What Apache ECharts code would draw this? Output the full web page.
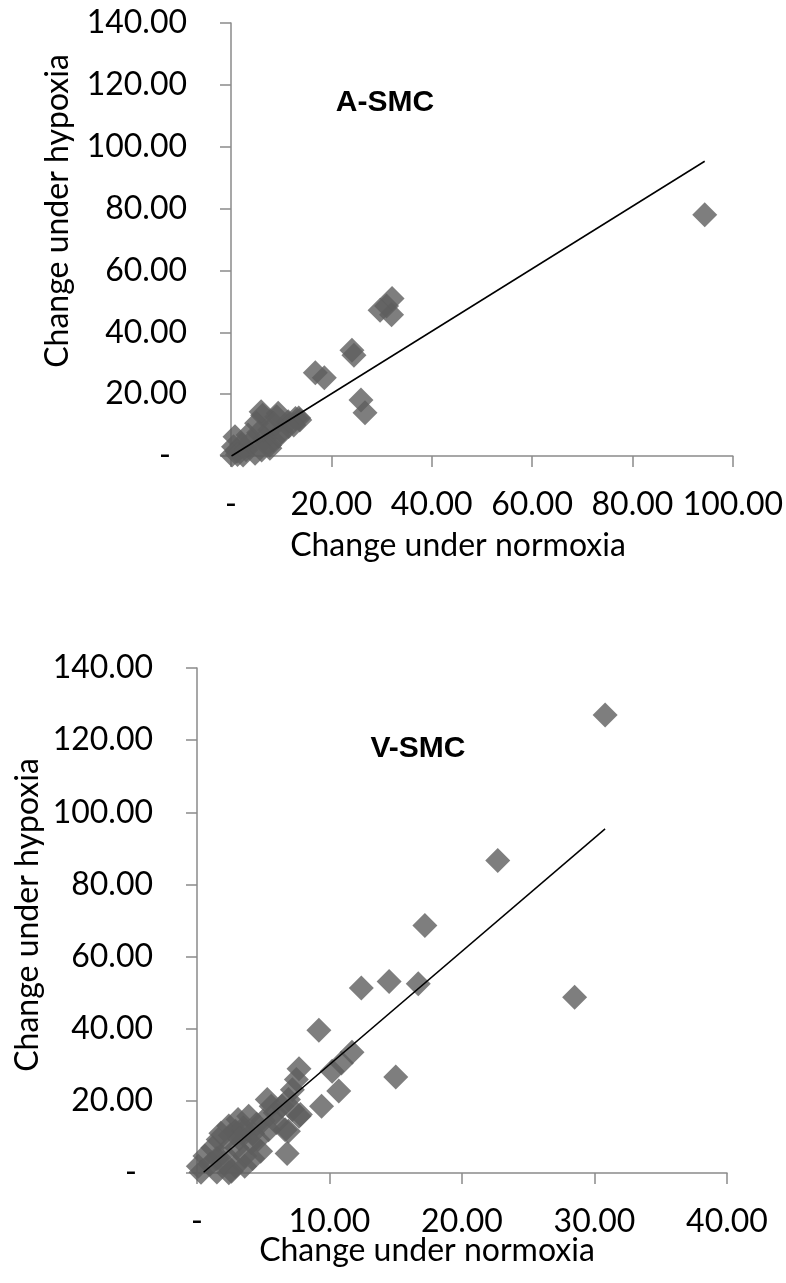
<!DOCTYPE html>
<html>
<head>
<meta charset="utf-8">
<title>A-SMC / V-SMC change under normoxia vs hypoxia</title>
<script src="https://cdn.jsdelivr.net/npm/echarts@6/dist/echarts.min.js"></script>
<style>
  html, body { margin: 0; padding: 0; background: #ffffff; }
  #chart { width: 786px; height: 1283px; }
</style>
</head>
<body>
<div id="chart"></div>
<script>
// A-SMC: change under normoxia (x) vs change under hypoxia (y)
const asmcNormoxia = [94.4, 32.1, 31.0, 29.7, 32.0, 24.1, 24.5, 16.8, 18.6, 25.9, 26.7,
  13.5, 12.85, 13.7, 11.4, 9.1, 9.4, 6.0, 6.3, 5.1, 7.7, 10.1, 11.5, 8.4, 7.7, 6.8, 3.4,
  0.8, 2.1, 0.5, 0.2, 2.4, 4.8, 7.75, 1.2, 3.0, 4.0, 5.5, 8.5, 12.5, 9.5, 1.3, 6.1];
const asmcHypoxia = [78.0, 50.9, 48.5, 47.1, 45.7, 34.2, 32.6, 26.9, 25.3, 18.1, 14.0,
  12.3, 12.15, 11.6, 11.1, 12.7, 13.8, 14.3, 13.2, 10.6, 8.4, 7.85, 9.5, 5.2, 3.5, 5.7, 6.8,
  6.2, 3.6, 3.0, 0.3, 0.3, 0.9, 2.5, 1.5, 2.0, 4.5, 7.5, 10.5, 10.0, 6.5, 0.5, 1.9];
// fitted line end points for A-SMC
const asmcTrendX = [0.1, 94.4];
const asmcTrendY = [0.0, 95.3];

// V-SMC: change under normoxia (x) vs change under hypoxia (y)
const vsmcNormoxia = [30.8, 22.7, 17.2, 12.4, 14.5, 16.7, 28.5, 9.2, 11.7, 10.9, 10.2, 15.0,
  10.7, 9.4, 7.7, 7.5, 7.2, 5.3, 7.7, 6.9, 6.8, 6.4, 5.9, 5.4, 4.8, 4.6, 4.1, 3.6, 3.9, 3.1,
  2.4, 1.6, 0.6, 0.1, 2.9, 2.6, 1.5, 0.3, 1.0, 2.0, 3.0, 2.5, 3.5, 4.5, 1.2, 5.6, 6.9, 7.2,
  7.8, 6.65, 3.6, 2.4, 2.9, 3.5, 1.5, 2.0, 3.2, 4.2, 5.0, 6.0, 4.2, 1.8];
const vsmcHypoxia = [127.0, 86.6, 68.6, 51.3, 53.1, 52.5, 48.7, 39.6, 33.5, 30.5, 28.2, 26.6,
  22.7, 18.5, 28.9, 25.9, 23.1, 20.4, 15.7, 11.6, 5.4, 18.5, 16.7, 12.0, 6.0, 9.3, 8.4, 4.7, 15.7, 14.8,
  13.0, 9.3, 4.7, 1.9, 1.9, 0.5, 0.3, 0.2, 2.5, 5.5, 7.0, 10.5, 11.5, 13.5, 7.0, 18.5, 20.4, 17.6,
  16.2, 12.0, 1.9, 0.05, 11.6, 12.5, 4.0, 3.0, 9.5, 11.0, 14.5, 14.0, 4.0, 11.0];
// fitted line end points for V-SMC
const vsmcTrendX = [0.5, 30.8];
const vsmcTrendY = [0.2, 95.4];

// axis tick settings
const yTicks = { min: 0, max: 140, interval: 20 };
const asmcXTicks = { min: 0, max: 100, interval: 20 };
const vsmcXTicks = { min: 0, max: 40, interval: 10 };

const zip = (xs, ys) => xs.map((x, i) => [x, ys[i]]);

const labelFont = 'Lato, "Open Sans", sans-serif';
const markerColor = '#5e5e5e';
const axisGray = '#8a8a8a';

function yLabel(v) { return v === 0 ? '{dash|-}' : v.toFixed(2); }
function xLabel(v) { return v === 0 ? '-' : v.toFixed(2); }

const axisLineStyle = { show: true, onZero: false, lineStyle: { color: axisGray, width: 1.5 } };
const axisTickStyle = { show: true, inside: false, length: 11, lineStyle: { color: axisGray, width: 1.5 } };

function xAxisFor(gridIndex, ticks) {
  return {
    type: 'value', gridIndex, min: ticks.min, max: ticks.max, interval: ticks.interval,
    axisLine: axisLineStyle, axisTick: axisTickStyle, splitLine: { show: false },
    axisLabel: { formatter: xLabel, color: '#000', fontFamily: labelFont, fontSize: 32, margin: 33 }
  };
}
function yAxisFor(gridIndex) {
  return {
    type: 'value', gridIndex, min: yTicks.min, max: yTicks.max, interval: yTicks.interval,
    axisLine: axisLineStyle, axisTick: axisTickStyle, splitLine: { show: false },
    axisLabel: {
      formatter: yLabel, color: '#000', fontFamily: labelFont, fontSize: 32, margin: 44,
      rich: { dash: { fontFamily: labelFont, fontSize: 32, color: '#000', padding: [0, 16, 0, 0] } }
    }
  };
}

function titleText(text, x, y, rotated) {
  return {
    type: 'text', x, y, rotation: rotated ? Math.PI / 2 : 0,
    style: {
      text, fill: '#000', font: '32px ' + labelFont,
      textAlign: 'center', textVerticalAlign: 'middle', align: 'center', verticalAlign: 'middle'
    }
  };
}
function panelTag(text, x, y) {
  return {
    type: 'text', x, y,
    style: {
      text, fill: '#000', font: 'bold 30px "Liberation Sans", Arial, sans-serif',
      textAlign: 'center', textVerticalAlign: 'middle', align: 'center', verticalAlign: 'middle'
    }
  };
}

const chart = echarts.init(document.getElementById('chart'), null, { renderer: 'canvas' });
chart.setOption({
  backgroundColor: '#ffffff',
  animation: false,
  grid: [
    { left: 231, top: 23, width: 503, height: 433 },
    { left: 197, top: 668, width: 530, height: 505 }
  ],
  xAxis: [xAxisFor(0, asmcXTicks), xAxisFor(1, vsmcXTicks)],
  yAxis: [yAxisFor(0), yAxisFor(1)],
  series: [
    {
      type: 'scatter', xAxisIndex: 0, yAxisIndex: 0, symbol: 'diamond', symbolSize: 25,
      itemStyle: { color: markerColor }, data: zip(asmcNormoxia, asmcHypoxia), z: 2
    },
    {
      type: 'line', xAxisIndex: 0, yAxisIndex: 0, showSymbol: false, silent: true,
      lineStyle: { color: '#000', width: 1.5 }, data: zip(asmcTrendX, asmcTrendY), z: 3
    },
    {
      type: 'scatter', xAxisIndex: 1, yAxisIndex: 1, symbol: 'diamond', symbolSize: 25,
      itemStyle: { color: markerColor }, data: zip(vsmcNormoxia, vsmcHypoxia), z: 2
    },
    {
      type: 'line', xAxisIndex: 1, yAxisIndex: 1, showSymbol: false, silent: true,
      lineStyle: { color: '#000', width: 1.5 }, data: zip(vsmcTrendX, vsmcTrendY), z: 3
    }
  ],
  graphic: [
    titleText('Change under hypoxia', 58, 211, true),
    titleText('Change under normoxia', 458, 546, false),
    titleText('Change under hypoxia', 28, 915, true),
    titleText('Change under normoxia', 427, 1251, false),
    panelTag('A-SMC', 385, 103),
    panelTag('V-SMC', 418, 749)
  ]
});
</script>
</body>
</html>
